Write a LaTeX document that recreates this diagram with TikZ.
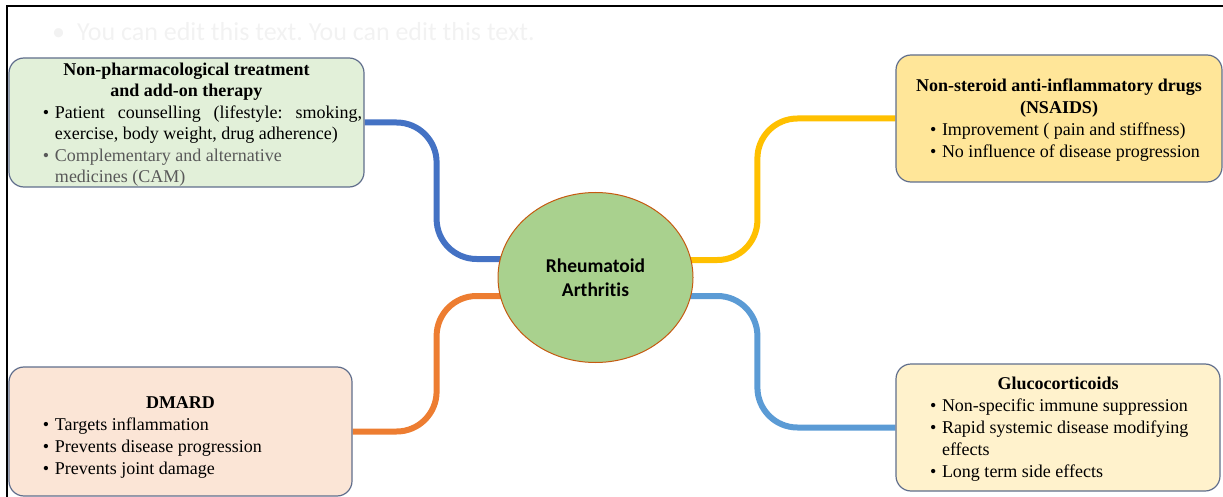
\documentclass[tikz,border=0pt]{standalone}
\usepackage{fontspec}
\setmainfont{Liberation Serif}
\newfontfamily\calibri[Ligatures=NoCommon]{Carlito}
\usetikzlibrary{shapes.geometric,backgrounds,calc}
\definecolor{boxline}{RGB}{96,110,140}
\definecolor{tlfill}{HTML}{E2F0D9}
\definecolor{trfill}{HTML}{FFE699}
\definecolor{blfill}{HTML}{FBE5D6}
\definecolor{brfill}{HTML}{FFF2CC}
\definecolor{ellfill}{HTML}{A9D18E}
\definecolor{ellborder}{HTML}{C55A11}
\definecolor{cblue}{HTML}{4472C4}
\definecolor{corange}{HTML}{ED7D31}
\definecolor{cyellow}{HTML}{FFC000}
\definecolor{clblue}{HTML}{5B9BD5}
\definecolor{graytext}{RGB}{89,89,89}
\definecolor{faint}{RGB}{242,242,242}
\frenchspacing
\newcommand{\bul}{\noindent\llap{\makebox[12pt][l]{\textbullet}}}
\newcommand{\boxfont}{\fontsize{18}{21.5}\selectfont\hyphenpenalty=10000}
\newcommand{\boxfontb}{\fontsize{18}{22}\selectfont\hyphenpenalty=10000}
\begin{document}
\begin{tikzpicture}[x=1pt,y=-1pt,
  box/.style={draw=boxline, line width=1.2pt, rounded corners=15pt, inner sep=0pt},
  conn/.style={line width=6pt, rounded corners=40pt}]
\useasboundingbox (0,0) rectangle (1223,497);
\draw[line width=2pt] (7,497) -- (7,6) -- (1223,6);
\node[anchor=west, text=faint, font=\calibri\fontsize{26}{30}\selectfont, inner sep=0pt] (ph) at (52,32) {\textbullet\hspace{12pt}You can edit this text. You can edit this text.};

\node[box, fill=tlfill, minimum width=355pt, minimum height=129pt] (tl) at (186.5,122.5) {\begin{minipage}{355pt}\boxfont
\vspace{4pt}
{\centering\bfseries Non-pharmacological treatment\\ and add-on therapy\par}
{\leftskip=46pt\rightskip=2pt
\bul Patient counselling (lifestyle: smoking,\linebreak exercise, body weight, drug adherence)\par
{\color{graytext}\bul Complementary and alternative\\ medicines (CAM)\par}}
\end{minipage}};

\node[box, fill=trfill, minimum width=326pt, minimum height=127pt] (tr) at (1059,118.5) {\begin{minipage}{326pt}\boxfontb
\vspace{3pt}
{\centering\bfseries Non-steroid anti-inflammatory drugs\\ (NSAIDS)\par}
{\leftskip=46pt\rightskip=0pt
\bul Improvement ( pain and stiffness)\par
\bul No influence of disease progression\par}
\end{minipage}};

\node[box, fill=blfill, minimum width=343pt, minimum height=129pt] (bl) at (180.5,431.5) {\begin{minipage}{343pt}\boxfontb
\vspace{12pt}
{\centering\bfseries DMARD\par}
{\leftskip=46pt\rightskip=2pt
\bul Targets inflammation\par
\bul Prevents disease progression\par
\bul Prevents joint damage\par}
\end{minipage}};

\node[box, fill=brfill, minimum width=324pt, minimum height=127pt] (br) at (1058,427.5) {\begin{minipage}{324pt}\boxfontb
\vspace{3pt}
{\centering\bfseries Glucocorticoids\par}
{\leftskip=46pt\rightskip=30pt
\bul Non-specific immune suppression\par
\bul Rapid systemic disease modifying\\ effects\par
\bul Long term side effects\par}
\end{minipage}};

\node[ellipse, draw=ellborder, line width=1pt, fill=ellfill, minimum width=195pt, minimum height=170pt, inner sep=0pt, align=center, font=\calibri\bfseries\fontsize{19.5}{24}\selectfont] (ra) at (595.5,277.5) {Rheumatoid\\Arthritis};

\begin{scope}[on background layer]
\draw[conn, cblue] (tl.east) -- ++(72,0) |- ($(ra.center)+(0,-18.5)$);
\draw[conn, corange] (bl.east) -- ++(84,0) |- ($(ra.center)+(0,18.5)$);
\draw[conn, cyellow] (tr.west) -- ++(-138,0) |- ($(ra.center)+(0,-17.5)$);
\draw[conn, clblue] (br.west) -- ++(-138,0) |- ($(ra.center)+(0,18.5)$);
\end{scope}
\end{tikzpicture}
\end{document}
